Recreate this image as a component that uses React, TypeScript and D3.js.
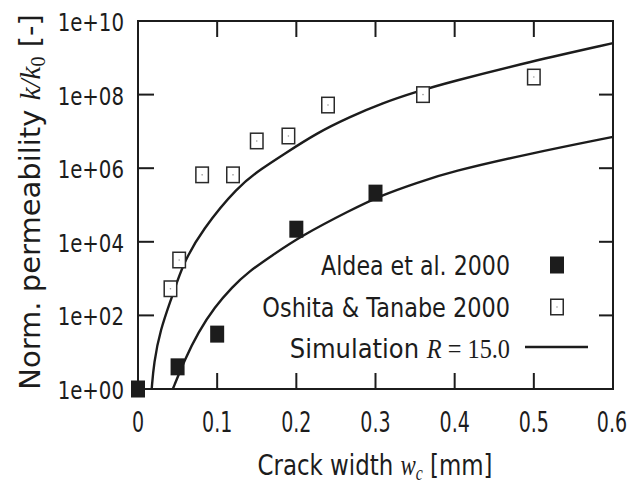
import { useMemo } from "react"
import * as d3 from "d3"

// Measured data (crack width in mm, normalised permeability)
const aldeaWidth = [0, 0.05, 0.1, 0.2, 0.3]
const aldeaPerm = [1, 4, 31, 2.2e4, 2.1e5]

const oshitaWidth = [0.041, 0.052, 0.081, 0.12, 0.15, 0.19, 0.24, 0.36, 0.5]
const oshitaPerm = [530, 3.2e3, 6.6e5, 6.6e5, 5.5e6, 7.5e6, 5.2e7, 1.0e8, 3.0e8]

// Simulation curves
const simUpperWidth = [0.0173, 0.02, 0.028, 0.043, 0.057, 0.081, 0.126, 0.157, 0.183, 0.226, 0.268, 0.309, 0.352, 0.394, 0.495, 0.6]
const simUpperPerm = [1, 5.1, 40, 320, 2600, 2.1e4, 3.2e5, 1e6, 2.3e6, 9.1e6, 2.5e7, 5.9e7, 1.2e8, 2.2e8, 7.8e8, 2.5e9]
const simLowerWidth = [0.044, 0.059, 0.076, 0.097, 0.119, 0.139, 0.169, 0.205, 0.268, 0.309, 0.352, 0.394, 0.495, 0.6]
const simLowerPerm = [1, 6.3, 35, 170, 590, 1.5e3, 4.2e3, 1.4e4, 7.2e4, 1.9e5, 4e5, 7.9e5, 2.5e6, 7.1e6]

const xTicks = [0, 0.1, 0.2, 0.3, 0.4, 0.5, 0.6]
const xTickLabels = ["0", "0.1", "0.2", "0.3", "0.4", "0.5", "0.6"]
const yTicks = [1, 1e2, 1e4, 1e6, 1e8, 1e10]
const yTickLabels = ["1e+00", "1e+02", "1e+04", "1e+06", "1e+08", "1e+10"]

const SANS = "'DejaVu Sans', sans-serif"
const SERIF = "'Liberation Serif', 'DejaVu Serif', serif"
const INK = "#1c1c1c"

export default function App() {
  const left = 138
  const right = 613
  const top = 21
  const bottom = 389

  const x = d3.scaleLinear().domain([0, 0.6]).range([left, right])
  const y = d3.scaleLog().domain([1, 1e10]).range([bottom, top])

  const line = d3
    .line<[number, number]>()
    .x((d) => x(d[0]))
    .y((d) => y(d[1]))
    .curve(d3.curveBasis)

  const upperPath = useMemo(() => line(simUpperWidth.map((w, i) => [w, simUpperPerm[i]])), [])
  const lowerPath = useMemo(() => line(simLowerWidth.map((w, i) => [w, simLowerPerm[i]])), [])

  const mw = 14
  const mh = 17
  const tick = 16

  return (
    <svg width={629} height={484} style={{ position: "absolute", left: 0, top: 0, background: "#fff" }}>
      {/* frame */}
      <rect x={left} y={top} width={right - left} height={bottom - top} fill="none" stroke={INK} strokeWidth={2} />

      {/* ticks, mirrored on all sides */}
      {xTicks.slice(1, -1).map((t) => (
        <g key={"xt" + t} stroke={INK} strokeWidth={2}>
          <line x1={x(t)} x2={x(t)} y1={bottom} y2={bottom - tick} />
          <line x1={x(t)} x2={x(t)} y1={top} y2={top + tick} />
        </g>
      ))}
      {yTicks.slice(1, -1).map((t) => (
        <g key={"yt" + t} stroke={INK} strokeWidth={2}>
          <line x1={left} x2={left + tick} y1={y(t)} y2={y(t)} />
          <line x1={right} x2={right - 14} y1={y(t)} y2={y(t)} />
        </g>
      ))}

      {/* tick labels */}
      {xTicks.map((t, i) => (
        <text
          key={"xl" + t}
          transform={`translate(${i === xTicks.length - 1 ? x(t) - 1 : x(t)},432) scale(0.68,1)`}
          fontFamily={SANS}
          fontSize={28}
          fill={INK}
          textAnchor="middle"
        >
          {xTickLabels[i]}
        </text>
      ))}
      {yTicks.map((t, i) => (
        <text
          key={"yl" + t}
          transform={`translate(124,${y(t) + 10}) scale(0.79,1)`}
          fontFamily={SANS}
          fontSize={25}
          fill={INK}
          textAnchor="end"
        >
          {yTickLabels[i]}
        </text>
      ))}

      {/* axis titles */}
      <text transform="translate(375,475) scale(0.79,1)" fontFamily={SANS} fontSize={29} fill={INK} textAnchor="middle">
        Crack width <tspan fontFamily={SERIF} fontStyle="italic">w</tspan>
        <tspan fontFamily={SERIF} fontStyle="italic" fontSize={20} dy={5}>c</tspan>
        <tspan dy={-5}> [mm]</tspan>
      </text>
      <text transform="translate(40,202) rotate(-90)" fontFamily={SANS} fontSize={29} fill={INK} textAnchor="middle">
        Norm. permeability <tspan fontFamily={SERIF} fontStyle="italic">k/k</tspan>
        <tspan fontFamily={SERIF} fontSize={20} dy={5}>0</tspan>
        <tspan dy={-5}> [-]</tspan>
      </text>

      {/* simulation curves */}
      <path d={upperPath ?? ""} fill="none" stroke={INK} strokeWidth={2.4} />
      <path d={lowerPath ?? ""} fill="none" stroke={INK} strokeWidth={2.4} />

      {/* Oshita & Tanabe (open squares) */}
      {oshitaWidth.map((w, i) => (
        <g key={"o" + i}>
          <rect x={x(w) - mw / 2 + 0.75} y={y(oshitaPerm[i]) - mh / 2 + 0.75} width={mw - 1.5} height={mh - 1.5} fill="#fff" stroke="#2a2a2a" strokeWidth={1.5} />
          <circle cx={x(w)} cy={y(oshitaPerm[i])} r={0.8} fill="#999" />
        </g>
      ))}

      {/* Aldea et al. (filled squares) */}
      {aldeaWidth.map((w, i) => (
        <rect key={"a" + i} x={x(w) - mw / 2} y={y(aldeaPerm[i]) - mh / 2} width={mw} height={mh} fill={INK} />
      ))}

      {/* legend */}
      <text transform="translate(510,275) scale(0.82,1)" fontFamily={SANS} fontSize={27} fill={INK} textAnchor="end">
        Aldea et al. 2000
      </text>
      <rect x={557 - 7} y={265 - 8.5} width={14} height={17} fill={INK} />
      <text transform="translate(510,317) scale(0.83,1)" fontFamily={SANS} fontSize={27} fill={INK} textAnchor="end">
        Oshita &amp; Tanabe 2000
      </text>
      <rect x={557 - 6.25} y={307 - 7.75} width={12.5} height={15.5} fill="#fff" stroke="#2a2a2a" strokeWidth={1.5} />
      <circle cx={557} cy={307} r={0.8} fill="#999" />
      <text transform="translate(510,358) scale(0.9,1)" fontFamily={SANS} fontSize={27} fill={INK} textAnchor="end">
        Simulation <tspan fontFamily={SERIF} fontStyle="italic">R</tspan>
        <tspan fontFamily={SERIF}> = 15.0</tspan>
      </text>
      <line x1={525} x2={588} y1={347} y2={347} stroke={INK} strokeWidth={2.4} />
    </svg>
  )
}
